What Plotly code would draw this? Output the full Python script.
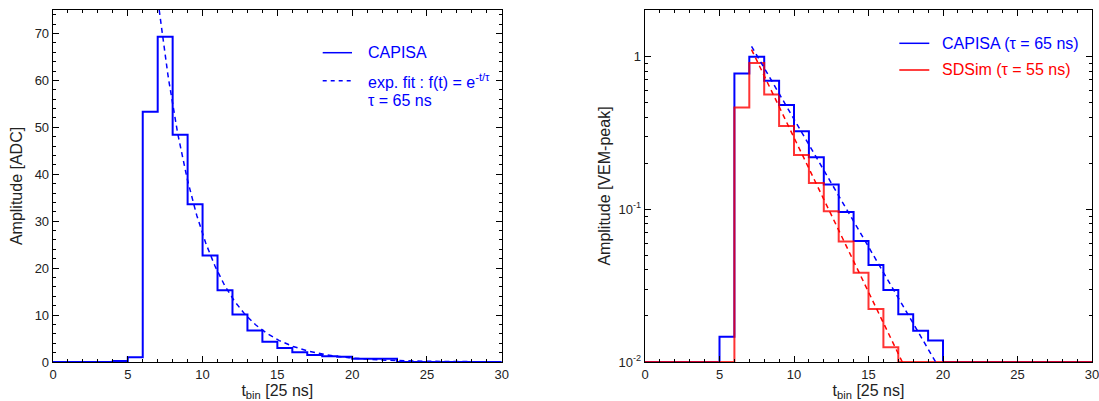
import numpy as np
import plotly.graph_objects as go

# ---------------- data ----------------
t_edges = list(range(0, 31))  # bin edges in units of 25 ns

# left panel: CAPISA trace in ADC counts (bins 0..29)
capisa_adc = [0, 0, 0, 0, 0.2, 1.0, 53.3, 69.3, 48.4, 33.6,
              22.7, 15.3, 10.1, 6.7, 4.3, 3.0, 2.1, 1.5, 1.2, 1.1,
              0.7, 0.7, 0.7, 0, 0, 0, 0, 0, 0, 0]

# right panel: normalised traces in VEM-peak (bins 0..29)
capisa_vem = [0, 0, 0, 0, 0, 0.0146, 0.77, 0.99, 0.69, 0.48,
              0.323, 0.218, 0.145, 0.0958, 0.0619, 0.0431, 0.0296, 0.0205, 0.0160, 0.0138,
              0, 0, 0, 0, 0, 0, 0, 0, 0, 0]
sdsim_vem = [0, 0, 0, 0, 0, 0, 0.461, 0.904, 0.561, 0.350,
             0.226, 0.148, 0.0968, 0.0613, 0.0384, 0.0222, 0.0125, 0, 0, 0,
             0, 0, 0, 0, 0, 0, 0, 0, 0, 0]

# exponential fits f(t) = a0 * exp(-(t - t0)/tau), tau in bins of 25 ns
fit_adc = {"t0": 7.1, "a0": 75.0, "tau": 2.87}
fit_capisa = {"t0": 7.15, "a0": 1.16, "tau": 2.6}
fit_sdsim = {"t0": 7.15, "a0": 1.105, "tau": 2.15}

x_ticks = [0, 5, 10, 15, 20, 25, 30]
y_ticks_adc = [0, 10, 20, 30, 40, 50, 60, 70]
y_ticks_vem = [0.01, 0.1, 1]
y_ticktext_vem = ["10<sup>-2</sup>", "10<sup>-1</sup>", "1"]

# --------------- helpers ---------------
def step(vals, floor=None):
    v = list(vals) + [vals[-1]]
    if floor is not None:
        v = [max(a, floor) for a in v]
    return t_edges, v


def fit_curve(p):
    t = np.linspace(p["t0"], 30, 400)
    return t, p["a0"] * np.exp(-(t - p["t0"]) / p["tau"])


BLUE = "#0000ff"
RED = "#ff0000"
FONT = "Liberation Sans, Arial, sans-serif"
AX = "#222222"
LOG_MIN = 0.01

fig = go.Figure()

x, y = step(capisa_adc)
fig.add_trace(go.Scatter(x=x, y=y, mode="lines", line=dict(color=BLUE, width=2, shape="hv"),
                         name="CAPISA", showlegend=False, xaxis="x", yaxis="y"))
tf, yf = fit_curve(fit_adc)
fig.add_trace(go.Scatter(x=tf, y=yf, mode="lines", line=dict(color=BLUE, width=1.5, dash="5px,4px"),
                         name="exp. fit", showlegend=False, xaxis="x", yaxis="y"))

x, y = step(capisa_vem, LOG_MIN)
fig.add_trace(go.Scatter(x=x, y=y, mode="lines", line=dict(color=BLUE, width=2, shape="hv"),
                         name="CAPISA (τ = 65 ns)", showlegend=False, xaxis="x2", yaxis="y2"))
x, y = step(sdsim_vem, LOG_MIN)
fig.add_trace(go.Scatter(x=x, y=y, mode="lines", line=dict(color=RED, width=2, shape="hv"),
                         opacity=0.8, name="SDSim (τ = 55 ns)", showlegend=False, xaxis="x2", yaxis="y2"))
tf, yf = fit_curve(fit_capisa)
fig.add_trace(go.Scatter(x=tf, y=yf, mode="lines", line=dict(color=BLUE, width=1.5, dash="5px,4px"),
                         showlegend=False, xaxis="x2", yaxis="y2"))
tf, yf = fit_curve(fit_sdsim)
fig.add_trace(go.Scatter(x=tf, y=yf, mode="lines", line=dict(color=RED, width=1.5, dash="5px,4px"),
                         showlegend=False, xaxis="x2", yaxis="y2"))

axis_common = dict(showline=True, linecolor="black", linewidth=1.3, mirror="allticks",
                   ticks="inside", ticklen=6, tickwidth=1, tickcolor="black",
                   showgrid=False, zeroline=False, automargin=False,
                   ticklabeloverflow="allow",
                   tickfont=dict(family=FONT, size=13, color=AX),
                   title_font=dict(family=FONT, size=16, color=AX))

minor_x = dict(dtick=1, ticks="inside", ticklen=3, tickcolor="black", showgrid=False)

log_minor = [m * d for d in (0.01, 0.1, 1) for m in range(2, 10) if m * d < 2]

L, R, T, B = 53, 7, 10, 39
W, H = 1099, 401
PW = W - L - R
PH = H - T - B

fig.update_layout(
    width=W, height=H,
    margin=dict(l=L, r=R, t=T, b=B),
    paper_bgcolor="white", plot_bgcolor="white",
    font=dict(family=FONT, color=AX),
    xaxis=dict(domain=[0, (501.7 - L) / PW], range=[0, 30], tickvals=x_ticks,
               minor=minor_x, anchor="y",
               title=dict(text="t<sub>bin</sub> [25 ns]", standoff=4), **axis_common),
    yaxis=dict(range=[0, 75], tickvals=y_ticks_adc, anchor="x",
               minor=dict(dtick=2, ticks="inside", ticklen=3, tickcolor="black", showgrid=False),
               title=dict(text="Amplitude [ADC]", standoff=8), **axis_common),
    xaxis2=dict(domain=[(645 - L) / PW, 1], range=[0, 30], tickvals=x_ticks,
                minor=minor_x, anchor="y2",
                title=dict(text="t<sub>bin</sub> [25 ns]", standoff=4), **axis_common),
    yaxis2=dict(type="log", range=[-2, 0.302], tickvals=y_ticks_vem, ticktext=y_ticktext_vem,
                anchor="x2",
                minor=dict(tickvals=log_minor, ticks="inside", ticklen=3, tickcolor="black", showgrid=False),
                title=dict(text="Amplitude [VEM-peak]", standoff=4), **axis_common),
)

# in-plot legends (drawn as text + sample lines)
def px_x(p):
    return (p - L) / PW


def px_y(p):
    return (H - B - p) / PH


shapes = []
annos = []

def legend_item(x0, x1, ypx, color, dash, text, xt):
    shapes.append(dict(type="line", xref="paper", yref="paper",
                       x0=px_x(x0), x1=px_x(x1), y0=px_y(ypx), y1=px_y(ypx),
                       line=dict(color=color, width=1.5, dash=dash)))
    annos.append(dict(xref="paper", yref="paper", x=px_x(xt), y=px_y(ypx),
                      xanchor="left", yanchor="middle", showarrow=False,
                      text=text, font=dict(family=FONT, size=16, color=color)))


legend_item(322.7, 352, 52.7, BLUE, "solid", "CAPISA", 366)
legend_item(322.7, 352, 80.7, BLUE, "4px,4px", "exp. fit : f(t) = e<sup>-t/τ</sup>", 366)
annos.append(dict(xref="paper", yref="paper", x=px_x(366), y=px_y(100.5),
                  xanchor="left", yanchor="middle", showarrow=False,
                  text="τ = 65 ns", font=dict(family=FONT, size=16, color=BLUE)))
legend_item(899.3, 929.3, 43.3, BLUE, "solid", "CAPISA (τ = 65 ns)", 940)
legend_item(899.3, 929.3, 70, RED, "solid", "SDSim (τ = 55 ns)", 940)

fig.update_layout(shapes=shapes, annotations=annos)

fig.write_html("out.html",
               config={"displayModeBar": False, "staticPlot": True},
               post_script="document.body.style.margin='0';document.body.style.overflow='hidden';")
